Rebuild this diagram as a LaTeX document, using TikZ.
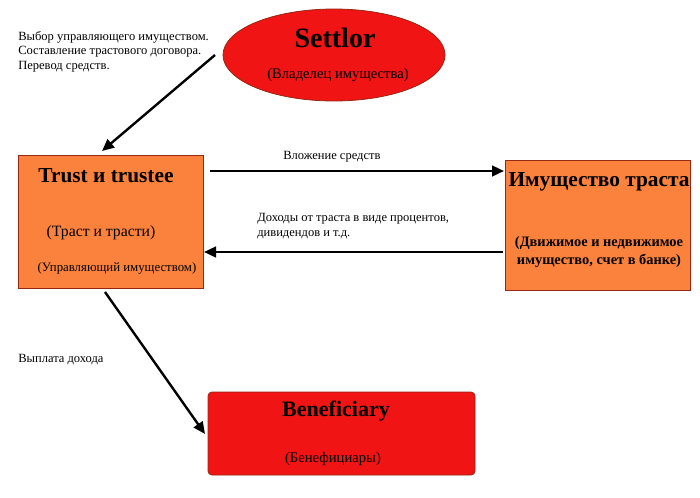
\documentclass[tikz,border=0pt]{standalone}
\usepackage{fontspec}
\setmainfont{Liberation Serif}
\usetikzlibrary{shapes.geometric,arrows.meta}
\definecolor{ored}{RGB}{240,20,20}
\definecolor{orng}{RGB}{250,130,60}
\definecolor{bord}{RGB}{150,40,20}
\tikzset{
 conn/.style={line width=1.8pt,-{Triangle[length=9pt,width=8pt]}},
 small/.style={font=\fontsize{9.4}{11}\selectfont,align=left,inner sep=0pt},
 box/.style={draw=bord,line width=0.6pt}
}
\begin{document}
\begin{tikzpicture}[x=0.75pt,y=-0.75pt]
\useasboundingbox (0,0) rectangle (700,497);
\fill[white] (0,0) rectangle (700,497);
\node[ellipse,box,fill=ored,minimum width=166.5pt,minimum height=69pt] (settlor) at (334,55) {};
\node[font=\bfseries\fontsize{21}{24}\selectfont] (st) at (335,38) {Settlor};
\node[font=\fontsize{11}{13}\selectfont] (stsub) at (338,75) {(Владелец имущества)};
\draw[box,fill=orng] (18,155) rectangle (203,288);
\node[font=\bfseries\fontsize{16}{18}\selectfont] (trt) at (106,176) {Trust и trustee};
\node[font=\fontsize{11.8}{14}\selectfont] (trs) at (101,233) {(Траст и трасти)};
\node[font=\fontsize{9.6}{11}\selectfont] (tru) at (117,268) {(Управляющий имуществом)};
\draw[box,fill=orng] (505,160) rectangle (690,290);
\node[font=\bfseries\fontsize{16}{18}\selectfont] (prt) at (599,182) {Имущество траста};
\node[font=\bfseries\fontsize{10.8}{14}\selectfont,align=center] (prs) at (599,252) {(Движимое и недвижимое\\имущество, счет в банке)};
\draw[box,fill=ored,rounded corners=3pt] (208,392) rectangle (475,475);
\node[font=\bfseries\fontsize{16.5}{18}\selectfont] (bt) at (336,411) {Beneficiary};
\node[font=\fontsize{11}{13}\selectfont] (bs) at (333,459) {(Бенефициары)};
\node[small,anchor=north west] (t1) at (18,31) {Выбор управляющего имуществом.\\Составление трастового договора.\\Перевод средств.};
\node[small,anchor=west] (t2) at (283,157) {Вложение средств};
\node[small,anchor=north west] (t3) at (257,213) {Доходы от траста в виде процентов,\\дивидендов и т.д.};
\node[small,anchor=west] (t4) at (18,360) {Выплата дохода};
\coordinate (a1) at (215,55); \coordinate (a1e) at (102,151);
\coordinate (a2) at (210,171); \coordinate (a2e) at (504,171);
\coordinate (a3) at (503,252); \coordinate (a3e) at (204,252);
\coordinate (a4) at (105,292); \coordinate (a4e) at (205,434);
\draw[conn] (a1) -- (a1e);
\draw[conn] (a2) -- (a2e);
\draw[conn] (a3) -- (a3e);
\draw[conn] (a4) -- (a4e);
\end{tikzpicture}
\end{document}
